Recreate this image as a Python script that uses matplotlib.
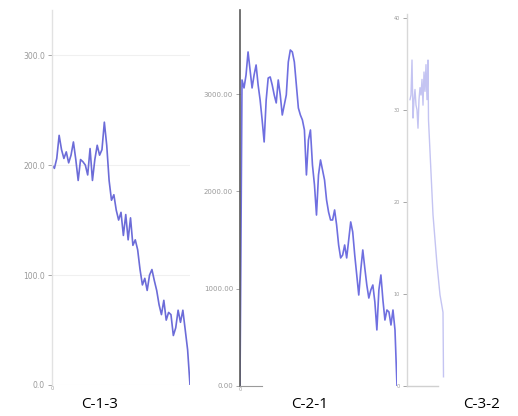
import matplotlib.pyplot as plt
import numpy as np

# Chart C-1-3
c13_values = [200, 197, 206, 227, 214, 206, 212, 202, 209, 221, 205, 186, 205, 203, 200,
              191, 215, 186, 205, 218, 209, 214, 239, 218, 186, 168, 173, 159, 150, 157,
              136, 155, 132, 152, 127, 132, 123, 105, 91, 97, 86, 100, 105, 95, 86,
              73, 64, 77, 59, 66, 64, 45, 52, 68, 57, 68, 50, 32, 0]
c13_ticks = [0, 100, 200, 300]
c13_ticklabels = ["0.0", "100.0", "200.0", "300.0"]

# Chart C-2-1
c21_values = [0, 3145, 3063, 3196, 3433, 3248, 3063, 3196, 3299, 3094, 2939, 2734, 2508,
              2939, 3165, 3176, 3094, 2991, 2909, 3145, 2991, 2785, 2888, 2991, 3330, 3453,
              3433, 3330, 3094, 2857, 2785, 2734, 2631, 2169, 2528, 2631, 2271, 2066, 1757,
              2169, 2323, 2220, 2117, 1912, 1788, 1706, 1706, 1809, 1655, 1449, 1316, 1346,
              1449, 1316, 1501, 1686, 1583, 1346, 1141, 935, 1192, 1398, 1213, 1038, 904,
              987, 1038, 863, 576, 987, 1141, 884, 678, 781, 761, 627, 781, 576, 0]
c21_ticks = [0, 1000, 2000, 3000]
c21_ticklabels = ["0.00", "1000.00", "2000.00", "3000.00"]

# Chart C-3-2
c32_days = [0, 1, 2, 3, 4, 5, 6, 7, 8, 9, 10, 11, 12, 13, 14, 15, 16, 17, 18, 18.5,
            23, 27, 30, 33, 33.5]
c32_values = [31.1, 31.6, 35.4, 29.1, 31.1, 32.2, 30.5, 30.0, 28.0, 31.1, 32.4, 31.6,
              33.3, 30.5, 34.1, 32.0, 34.9, 31.1, 35.4, 28.9, 18.6, 13.2, 9.9, 8.0, 1.0]
c32_ticks = [0, 10, 20, 30, 40]

titles = ["C-1-3", "C-2-1", "C-3-2"]

W, H = 518, 416
fig = plt.figure(figsize=(W / 100, H / 100), dpi=100)
fig.patch.set_facecolor("white")


def px_axes(left, right, top, bottom):
    # pixel box (from top-left) -> figure fraction
    return fig.add_axes([left / W, 1 - bottom / H, (right - left) / W, (bottom - top) / H])


def style_axes(ax, spine_color, spine_width, label_size):
    for side in ["top", "right", "bottom"]:
        ax.spines[side].set_visible(False)
    ax.spines["left"].set_color(spine_color)
    ax.spines["left"].set_linewidth(spine_width)
    ax.tick_params(axis="y", length=3, width=0.6, colors="#999999",
                   labelsize=label_size, pad=2)
    ax.tick_params(axis="x", length=0, colors="#999999", labelsize=3.5, pad=1)
    ax.set_facecolor("none")


# panel 1
ax1 = px_axes(52, 190, 10, 385)
x1 = np.arange(len(c13_values))
ax1.plot(x1, c13_values, color="#6c6cd8", lw=1.2)
ax1.set_xlim(0, len(c13_values) - 1)
ax1.set_ylim(0, 341)
ax1.set_yticks(c13_ticks, c13_ticklabels)
ax1.set_xticks([0], ["0"])
ax1.grid(axis="y", color="#f0f0f0", lw=0.8)
style_axes(ax1, "#e2e2e2", 1.0, 5.5)

# panel 2
ax2 = px_axes(240, 397, 10, 386)
x2 = np.arange(len(c21_values))
ax2.plot(x2, c21_values, color="#6f6fe0", lw=1.2)
ax2.set_xlim(0, len(c21_values) - 1)
ax2.set_ylim(0, 3864)
ax2.set_yticks(c21_ticks, c21_ticklabels)
ax2.set_xticks([0], ["0"])
style_axes(ax2, "#5a5a5a", 1.2, 5)
ax2.spines["bottom"].set_visible(True)
ax2.spines["bottom"].set_color("#9a9a9a")
ax2.spines["bottom"].set_linewidth(0.8)
ax2.spines["bottom"].set_bounds(0, 11)

# panel 3
ax3 = px_axes(407, 446, 14, 386)
ax3.plot(c32_days, c32_values, color="#c4c4f2", lw=1.0)
ax3.set_xlim(-3, 36)
ax3.set_ylim(0, 40.4)
ax3.set_yticks(c32_ticks, [str(t) for t in c32_ticks])
ax3.set_xticks([])
style_axes(ax3, "#d8d8d8", 1.0, 3.5)
ax3.spines["bottom"].set_visible(True)
ax3.spines["bottom"].set_color("#d0d0d0")
ax3.spines["bottom"].set_linewidth(1.0)
ax3.spines["bottom"].set_bounds(-3, 28)

for xc, t in zip([100, 310, 482], titles):
    fig.text(xc / W, 1 - 405 / H, t, ha="center", va="center", fontsize=11,
             family="Open Sans", color="black")

fig.savefig("out.png", dpi=100)
